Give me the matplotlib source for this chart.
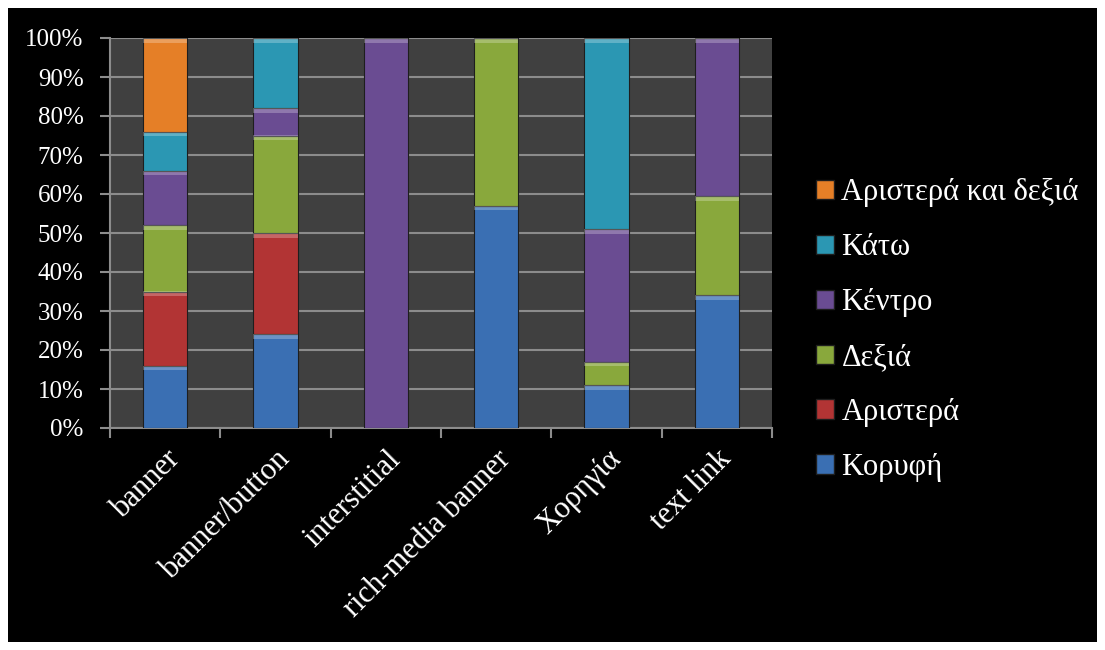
import numpy as np
import matplotlib.pyplot as plt
from matplotlib.patches import Rectangle, Patch

plt.rcParams['font.family'] = ['Liberation Serif', 'DejaVu Serif']

categories = ["banner", "banner/button", "interstitial", "rich-media banner", "Χορηγία", "text link"]

# share (%) of each position per ad type, stacked bottom to top
koryfi = [16, 24, 0, 57, 11, 34]
aristera = [19, 26, 0, 0, 0, 0]
dexia = [17, 25, 0, 43, 6, 25.5]
kentro = [14, 7, 100, 0, 34, 40.5]
kato = [10, 18, 0, 0, 49, 0]
aristera_dexia = [24, 0, 0, 0, 0, 0]

series = [
    ("Κορυφή", koryfi, "#3a6fb3"),
    ("Αριστερά", aristera, "#b23434"),
    ("Δεξιά", dexia, "#89a83c"),
    ("Κέντρο", kentro, "#6a4c92"),
    ("Κάτω", kato, "#2b97b3"),
    ("Αριστερά και δεξιά", aristera_dexia, "#e57f27"),
]

fig = plt.figure(figsize=(11.05, 6.5), dpi=100, facecolor="white")
# black panel inside thin white frame
fig.patches.append(Rectangle((8 / 1105, 8 / 650), 1 - 16 / 1105, 1 - 16 / 650,
                             transform=fig.transFigure, facecolor="black",
                             edgecolor="none", zorder=-10))

ax = fig.add_axes([110 / 1105, 1 - 428 / 650, 662 / 1105, 390 / 650])
ax.set_facecolor("#404040")

x = np.arange(len(categories))
bottom = np.zeros(len(categories))
handles = []
for name, vals, col in series:
    vals = np.array(vals, dtype=float)
    ax.bar(x, vals, 0.4, bottom=bottom, color=col, edgecolor="#1e1e1e",
           linewidth=0.8, zorder=3)
    # lighter cap on top of each segment
    cap = np.where(vals > 0, np.minimum(vals, 1.2), 0)
    ax.bar(x, cap, 0.4, bottom=bottom + vals - cap, color="white", alpha=0.25,
           linewidth=0, zorder=4)
    bottom += vals
    handles.append(Patch(facecolor=col, edgecolor="#1e1e1e", label=name))

ax.set_xlim(-0.5, len(categories) - 0.5)
ax.set_ylim(0, 100)
ax.set_yticks(np.arange(0, 101, 10))
ax.set_yticklabels([f"{v}%" for v in range(0, 101, 10)])
ax.yaxis.grid(True, color="#8c8c8c", linewidth=1.5, zorder=1)
ax.set_axisbelow(True)

ax.set_xticks(np.arange(-0.5, len(categories), 1))
ax.set_xticklabels([])
ax.set_xticks(x, minor=True)
ax.set_xticklabels(categories, minor=True, rotation=45, ha="right", va="top",
                   rotation_mode="anchor", fontsize=22, color="white")
ax.tick_params(axis="x", which="minor", length=0, pad=12)
ax.tick_params(axis="x", which="major", length=7, color="#8c8c8c", width=1.5)
ax.tick_params(axis="y", length=7, color="#8c8c8c", width=1.5, labelsize=18,
               labelcolor="white", pad=12)

for side in ["top", "right"]:
    ax.spines[side].set_visible(False)
for side in ["left", "bottom"]:
    ax.spines[side].set_color("#8c8c8c")
    ax.spines[side].set_linewidth(1.5)

leg = fig.legend(handles[::-1], [h.get_label() for h in handles[::-1]],
                 loc="center left", bbox_to_anchor=(788 / 1105, 1 - 330 / 650),
                 frameon=False, fontsize=22, labelcolor="white",
                 handlelength=0.6, handleheight=0.6, handletextpad=0.25,
                 labelspacing=0.85)

fig.savefig("out.png", dpi=100, facecolor=fig.get_facecolor())
